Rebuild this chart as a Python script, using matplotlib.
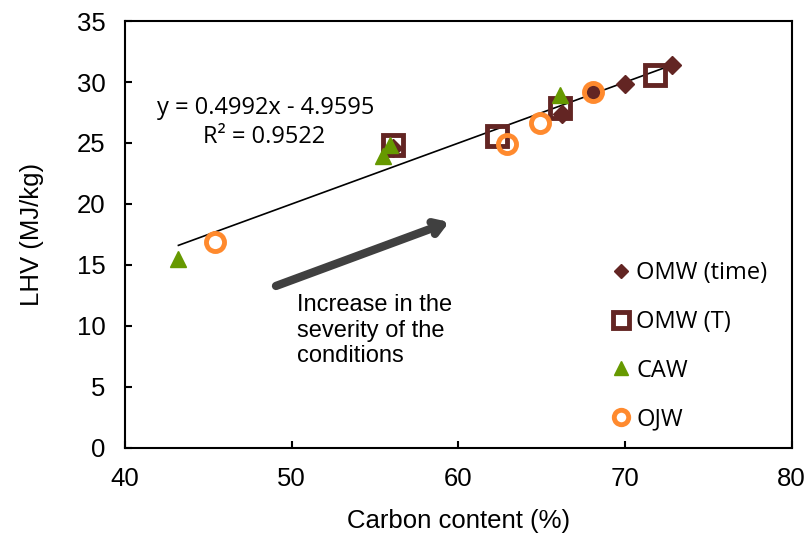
import numpy as np
import matplotlib.pyplot as plt

# carbon content (%) and LHV (MJ/kg) for each feedstock series
omw_time_c = [56.1, 66.2, 68.1, 70.0, 72.8]
omw_time_lhv = [24.6, 27.4, 29.2, 29.8, 31.4]
omw_T_c = [56.1, 62.3, 66.1, 71.8]
omw_T_lhv = [24.8, 25.6, 27.9, 30.6]
caw_c = [43.2, 55.5, 55.9, 66.1]
caw_lhv = [15.5, 23.9, 24.8, 28.9]
ojw_c = [45.4, 62.9, 64.9, 68.1]
ojw_lhv = [16.9, 24.9, 26.6, 29.2]

slope, intercept = 0.4992, -4.9595
fit_x = [43.2, 72.8]

brown = '#632523'
green = '#669900'
orange = '#FF8A2E'
calibri = ['Open Sans', 'DejaVu Sans']

plt.rcParams['font.family'] = ['Liberation Sans', 'DejaVu Sans']

fig = plt.figure(figsize=(8.07, 5.39), dpi=100)
ax = fig.add_axes([0.155, 0.169, 0.826, 0.792])

ax.plot(fit_x, [slope * x + intercept for x in fit_x], color='black', lw=1.2, zorder=1)

ax.plot(omw_time_c, omw_time_lhv, 'D', color=brown, ms=9, ls='none', label='OMW (time)', zorder=2)
ax.plot(omw_T_c, omw_T_lhv, 's', mfc='none', mec=brown, mew=3.5, ms=14, ls='none', label='OMW (T)', zorder=3)
ax.plot(caw_c, caw_lhv, '^', color=green, ms=12, ls='none', label='CAW', zorder=4)
ax.plot(ojw_c, ojw_lhv, 'o', mfc='none', mec=orange, mew=3.5, ms=13, ls='none', label='OJW', zorder=5)

ax.text(41.9, 27.9, 'y = 0.4992x - 4.9595', fontsize=17, family=calibri, va='center')
ax.text(44.7, 25.5, 'R² = 0.9522', fontsize=17, family=calibri, va='center')

ax.annotate('', xy=(59.6, 18.6), xytext=(48.9, 13.2),
            arrowprops=dict(arrowstyle='->,head_length=0.7,head_width=0.45',
                            color='#404040', lw=6))
ax.text(50.3, 12.6, 'Increase in the\nseverity of the\nconditions', fontsize=17,
        va='top', ha='left', linespacing=1.2)

ax.set_xlim(40, 80)
ax.set_ylim(0, 35)
ax.set_xticks(np.arange(40, 81, 10))
ax.set_yticks(np.arange(0, 36, 5))
ax.tick_params(direction='in', labelsize=18.5, width=1.5, length=5, pad=14)
for s in ax.spines.values():
    s.set_linewidth(1.5)
ax.set_xlabel('Carbon content (%)', fontsize=18.5, labelpad=13)
ax.set_ylabel('LHV (MJ/kg)', fontsize=18.5, labelpad=24)

leg = ax.legend(loc='upper left', bbox_to_anchor=(0.712, 0.46), frameon=False,
                prop={'family': calibri, 'size': 17}, labelspacing=1.05,
                handletextpad=0.15, handlelength=1.0, markerscale=0.8, borderaxespad=0)

fig.savefig('out.png', dpi=100)
